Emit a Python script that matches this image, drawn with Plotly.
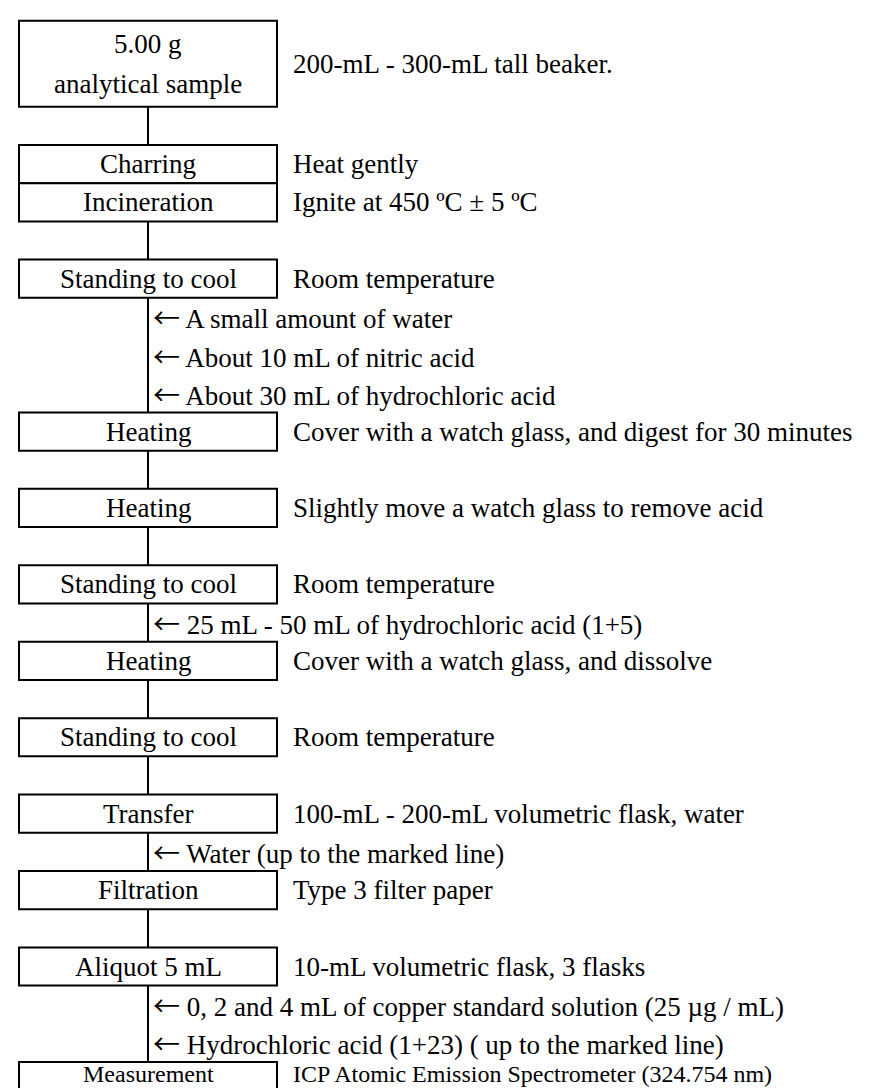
import plotly.graph_objects as go

# ---------------- data ----------------
step_labels = [
    "5.00 g\nanalytical sample",
    "Charring",
    "Incineration",
    "Standing to cool",
    "Heating",
    "Heating",
    "Standing to cool",
    "Heating",
    "Standing to cool",
    "Transfer",
    "Filtration",
    "Aliquot 5 mL",
    "Measurement",
]
step_notes = [
    "200-mL - 300-mL tall beaker.",
    "Heat gently",
    "Ignite at 450 ºC ± 5 ºC",
    "Room temperature",
    "Cover with a watch glass, and digest for 30 minutes",
    "Slightly move a watch glass to remove acid",
    "Room temperature",
    "Cover with a watch glass, and dissolve",
    "Room temperature",
    "100-mL - 200-mL volumetric flask, water",
    "Type 3 filter paper",
    "10-mL volumetric flask, 3 flasks",
    "ICP Atomic Emission Spectrometer (324.754 nm)",
]
# reagents added after a given step (index into step_labels)
additions = {
    3: ["A small amount of water",
        "About 10 mL of nitric acid",
        "About 30 mL of hydrochloric acid"],
    6: ["25 mL - 50 mL of hydrochloric acid (1+5)"],
    9: ["Water (up to the marked line)"],
    11: ["0, 2 and 4 mL of copper standard solution (25 µg / mL)",
         "Hydrochloric acid (1+23) ( up to the marked line)"],
}
# steps drawn directly attached to the following step (no connector)
joined_with_next = [1]

# ---------------- layout constants ----------------
W, H = 877, 1088
ROW = 38.21            # px per row
TOP = 12.8             # px offset of first box
FIRST_BOX_ROWS = 2.25
BOX_L, BOX_R = 11, 269
LINE_X = (BOX_L + BOX_R) / 2
NOTE_X = 283
ARROW_X = 143
FONT = "Liberation Serif, Times New Roman, serif"
FS = 27
LW = 2
ARROW_GLYPH = '<span style="font-family:\'Noto Sans CJK JP\'">←</span>'

# ---------------- compute rows ----------------
tops, heights, arrows = [], [], []
r = 0.0
n = len(step_labels)
for i in range(n):
    h = FIRST_BOX_ROWS if i == 0 else 1.0
    tops.append(r)
    heights.append(h)
    r += h
    if i == n - 1:
        break
    adds = additions.get(i, [])
    for a in adds:
        arrows.append((r + 0.5, a))
        r += 1
    if not adds and i not in joined_with_next:
        r += 1

y_bottom = (H - TOP) / ROW   # last visible row coordinate

shapes = []
annotations = []

# main vertical flow line
shapes.append(dict(type="line", xref="x", yref="y",
                   x0=LINE_X, x1=LINE_X,
                   y0=tops[0] + heights[0], y1=tops[-1],
                   line=dict(color="black", width=LW)))

for i, (lab, note) in enumerate(zip(step_labels, step_notes)):
    t, h = tops[i], heights[i]
    shapes.append(dict(type="rect", xref="x", yref="y",
                       x0=BOX_L, x1=BOX_R, y0=t, y1=t + h,
                       fillcolor="white",
                       line=dict(color="black", width=LW)))
    clipped = t + h > y_bottom
    if clipped:
        # box runs off the page: slightly smaller text kept inside the page
        cy, fs = y_bottom - 22 / ROW, FS - 3
    else:
        cy, fs = t + h / 2, FS
    lines = lab.split("\n")
    spacing = 1.05
    for k, ln in enumerate(lines):
        yy = cy + (k - (len(lines) - 1) / 2) * spacing
        annotations.append(dict(x=LINE_X, y=yy, xref="x", yref="y",
                                text=ln, showarrow=False,
                                xanchor="center", yanchor="middle",
                                font=dict(family=FONT, size=fs, color="black")))
    annotations.append(dict(x=NOTE_X, y=cy, xref="x", yref="y",
                            text=note, showarrow=False,
                            xanchor="left", yanchor="middle",
                            font=dict(family=FONT, size=fs, color="black")))

for yy, txt in arrows:
    annotations.append(dict(x=ARROW_X, y=yy, xref="x", yref="y",
                            text=ARROW_GLYPH + " " + txt, showarrow=False,
                            xanchor="left", yanchor="middle",
                            font=dict(family=FONT, size=FS, color="black")))

fig = go.Figure()
fig.add_trace(go.Scatter(x=[0, W], y=[0, 0], mode="markers",
                         marker=dict(opacity=0), hoverinfo="skip",
                         showlegend=False))
fig.update_layout(
    width=W, height=H,
    margin=dict(l=0, r=0, t=0, b=0),
    paper_bgcolor="white", plot_bgcolor="white",
    xaxis=dict(range=[0, W], visible=False, fixedrange=True),
    yaxis=dict(range=[y_bottom, -TOP / ROW], visible=False,
               fixedrange=True),
    shapes=shapes,
    annotations=annotations,
    showlegend=False,
)
fig.write_html("out.html")
